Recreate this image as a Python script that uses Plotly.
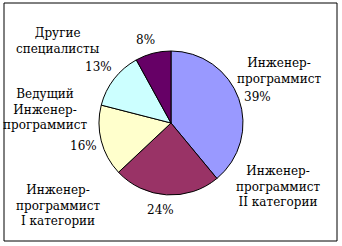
import plotly.graph_objects as go

categories = ["Инженер-программист", "Инженер-программист II категории",
              "Инженер-программист I категории", "Ведущий Инженер-программист",
              "Другие специалисты"]
values = [39, 24, 16, 13, 8]
colors = ["#9999FF", "#993366", "#FFFFCC", "#CCFFFF", "#660066"]

W, H = 342, 246
cx, cy, r = 171, 123, 72

fig = go.Figure(go.Pie(
    labels=categories, values=values, sort=False, direction="clockwise",
    rotation=0, textinfo="none", hoverinfo="label+percent",
    marker=dict(colors=colors, line=dict(color="black", width=1)),
    domain=dict(x=[(cx - r) / W, (cx + r) / W], y=[(H - cy - r) / H, (H - cy + r) / H]),
    showlegend=False,
))

font = dict(family="DejaVu Serif", size=12, color="black")

def ann(text, px, py, xanchor="center"):
    fig.add_annotation(text=text, x=px / W, y=1 - py / H, xref="paper", yref="paper",
                       xanchor=xanchor, yanchor="middle", showarrow=False, font=font, align="center")

pct = [f"{v}%" for v in values]
ann("Инженер-<br>программист", 279, 71)
ann(pct[0], 242, 97, xanchor="left")
ann("Инженер-<br>программист<br>II категории", 278, 186)
ann(pct[1], 160, 210)
ann("Инженер-<br>программист<br>I категории", 58, 205)
ann(pct[2], 83, 146)
ann("Ведущий<br>Инженер-<br>программист", 45, 109)
ann(pct[3], 98, 67)
ann("Другие<br>специалисты", 58, 41)
ann(pct[4], 145, 40)

fig.add_shape(type="rect", xref="paper", yref="paper",
              x0=4 / W, x1=337 / W, y0=1 - 241 / H, y1=1 - 3 / H,
              line=dict(color="black", width=1))

fig.update_layout(width=W, height=H, margin=dict(l=0, r=0, t=0, b=0),
                  paper_bgcolor="white", plot_bgcolor="white")
fig.write_html("out.html")
